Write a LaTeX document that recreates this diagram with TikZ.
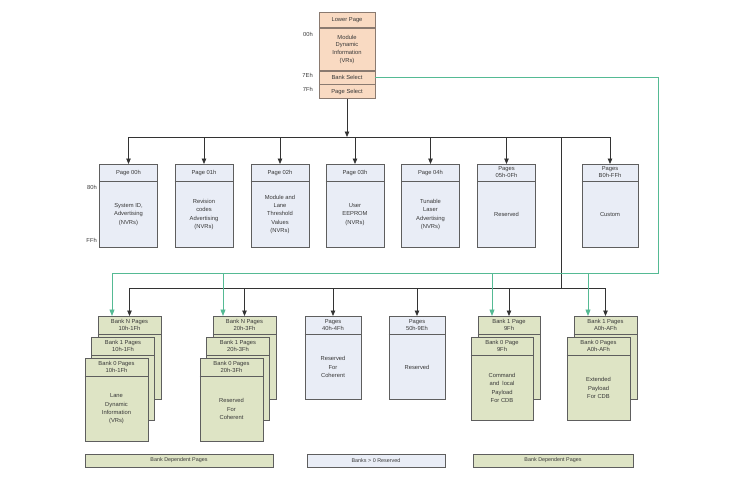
\documentclass[tikz,border=0pt]{standalone}
\usepackage{fontspec}
\setmainfont{Liberation Sans}
\usetikzlibrary{arrows.meta,calc}
\definecolor{peach}{HTML}{F9DAC2}
\definecolor{peachline}{HTML}{8A7A70}
\definecolor{bluefill}{HTML}{E9EDF6}
\definecolor{greenfill}{HTML}{DEE4C5}
\definecolor{boxline}{HTML}{5E5E5E}
\definecolor{gline}{HTML}{55BA94}
\tikzset{
  card/.style={draw=boxline,line width=0.9pt,inner sep=0pt},
  bluecard/.style={card,fill=bluefill},
  greencard/.style={card,fill=greenfill},
  cardline/.style={draw=boxline,line width=0.7pt},
  txt/.style={font=\fontsize{5.8}{7}\selectfont,text=black!78,align=center,inner sep=0pt},
  hdr/.style={txt},
  bodytxt/.style={font=\fontsize{5.8}{8.4}\selectfont,text=black!78,align=center,inner sep=0pt},
  sidelbl/.style={font=\fontsize{5.8}{7}\selectfont,text=black!78,inner sep=0pt,anchor=east},
  wire/.style={draw=black!80,line width=0.8pt},
  arr/.style={wire,-{Triangle[length=5.5pt,width=4.5pt]}},
  gwire/.style={draw=gline,line width=0.9pt},
  garr/.style={gwire,-{Triangle[length=6.5pt,width=5pt]}},
  toprow/.style={draw=peachline,fill=peach,line width=0.8pt,inner sep=0pt,minimum width=56pt,anchor=north,
     font=\fontsize{5.8}{7.6}\selectfont,text=black!78,align=center},
  legbar/.style={draw=boxline,line width=0.9pt,minimum height=13pt,inner sep=0pt,
     font=\fontsize{5.4}{6}\selectfont,text=black!78}
}
% name, x-centre, top y, width, height, header height, header text, body text, style
\newcommand{\pagecard}[9]{%
  \node[#9,minimum width=#4pt,minimum height=#5pt,anchor=north] (#1) at (#2,#3) {};
  \draw[cardline] ([yshift=-#6pt]#1.north west) -- ([yshift=-#6pt]#1.north east);
  \node[hdr] (#1h) at ($(#1.north)!0.5!([yshift=-#6pt]#1.north)$) {#7};
  \node[bodytxt] (#1b) at ($([yshift=-#6pt]#1.north)!0.5!(#1.south)$) {#8};
}
\begin{document}
\begin{tikzpicture}[x=1pt,y=-1pt]
\useasboundingbox (0,0) rectangle (748,483);

% ---- top box (lower page)
\node[toprow,minimum height=15pt] (lp) at (347,12) {Lower Page};
\node[toprow,minimum height=42pt] (mdi) at (lp.south) {Module\\Dynamic\\Information\\(VRs)};
\node[toprow,minimum height=13pt] (bs) at (mdi.south) {Bank Select};
\node[toprow,minimum height=14pt] (ps) at (bs.south) {Page Select};
\node[sidelbl] (l00) at (313,34) {00h};
\node[sidelbl] (l7e) at (313,75.5) {7Eh};
\node[sidelbl] (l7f) at (313,89) {7Fh};

% ---- middle row
\pagecard{p0}{128.5}{164}{58}{83}{17}{Page 00h}{System ID,\\Advertising\\(NVRs)}{bluecard}
\pagecard{p1}{204}{164}{58}{83}{17}{Page 01h}{Revision\\codes\\Advertising\\(NVRs)}{bluecard}
\pagecard{p2}{280}{164}{58}{83}{17}{Page 02h}{Module and\\Lane\\Threshold\\Values\\(NVRs)}{bluecard}
\pagecard{p3}{355}{164}{58}{83}{17}{Page 03h}{User\\EEPROM\\(NVRs)}{bluecard}
\pagecard{p4}{430.5}{164}{58}{83}{17}{Page 04h}{Tunable\\Laser\\Advertising\\(NVRs)}{bluecard}
\pagecard{p5}{506.5}{164}{58}{83}{17}{Pages\\05h-0Fh}{Reserved}{bluecard}
\pagecard{pc}{610}{164}{56}{83}{17}{Pages\\B0h-FFh}{Custom}{bluecard}
\node[sidelbl] (l80) at (97,187) {80h};
\node[sidelbl] (lff) at (97,240) {FFh};

% ---- upper bus
\coordinate (ub) at (347,137);
\draw[arr] (ps.south) -- (ub);
\draw[wire] (p0.north |- ub) -- (pc.north |- ub);
\foreach \n in {p0,p1,p2,p3,p4,p5,pc} \draw[arr] (\n.north |- ub) -- (\n.north);

% ---- bottom row: stacks
% stack 1
\pagecard{s1a}{129.5}{316}{63}{83}{18}{Bank N Pages\\10h-1Fh}{}{greencard}
\pagecard{s1b}{123}{337}{63}{83}{18}{Bank 1 Pages\\10h-1Fh}{}{greencard}
\pagecard{s1c}{116.5}{358}{63}{83}{18}{Bank 0 Pages\\10h-1Fh}{Lane\\Dynamic\\Information\\(VRs)}{greencard}
% stack 2
\pagecard{s2a}{244.5}{316}{63}{83}{18}{Bank N Pages\\20h-3Fh}{}{greencard}
\pagecard{s2b}{238}{337}{63}{83}{18}{Bank 1 Pages\\20h-3Fh}{}{greencard}
\pagecard{s2c}{231.5}{358}{63}{83}{18}{Bank 0 Pages\\20h-3Fh}{Reserved\\For\\Coherent}{greencard}
% single pages
\pagecard{s3}{333}{316}{56}{83}{18}{Pages\\40h-4Fh}{Reserved\\For\\Coherent}{bluecard}
\pagecard{s4}{417}{316}{56}{83}{18}{Pages\\50h-9Eh}{Reserved}{bluecard}
% stack 5
\pagecard{s5a}{509}{316}{62}{83}{18}{Bank 1 Page\\9Fh}{}{greencard}
\pagecard{s5b}{502}{337}{62}{83}{18}{Bank 0 Page\\9Fh}{Command\\and\ \ local\\Payload\\For CDB}{greencard}
% stack 6
\pagecard{s6a}{605.5}{316}{63}{83}{18}{Bank 1 Pages\\A0h-AFh}{}{greencard}
\pagecard{s6b}{598.5}{337}{63}{83}{18}{Bank 0 Pages\\A0h-AFh}{Extended\\Payload\\For CDB}{greencard}

% ---- lower bus
\coordinate (lbx) at (561,288);
\draw[wire] (lbx |- ub) -- (lbx);
\draw[wire] (s1a.north |- lbx) -- (s6a.north |- lbx);
\foreach \n in {s1a,s2a,s3,s4,s5a,s6a} \draw[arr] (\n.north |- lbx) -- (\n.north);

% ---- green bank-select line
\coordinate (gr) at (658,273);
\coordinate (g1) at (112,273);
\coordinate (g2) at (223,273);
\coordinate (g5) at (492,273);
\coordinate (g6) at (588,273);
\draw[gwire] (bs.east) -- (bs.east -| gr) -- (gr) -- (g1);
\draw[garr] (g1) -- (g1 |- s1a.north);
\draw[garr] (g2) -- (g2 |- s2a.north);
\draw[garr] (g5) -- (g5 |- s5a.north);
\draw[garr] (g6) -- (g6 |- s6a.north);

% ---- legend
\node[legbar,fill=greenfill,minimum width=188pt] (lg1) at (179,460.5) {Bank Dependent Pages};
\node[legbar,fill=bluefill,minimum width=138pt] (lg2) at (376,460.5) {Banks > 0 Reserved};
\node[legbar,fill=greenfill,minimum width=160pt] (lg3) at (553,460.5) {Bank Dependent Pages};
\end{tikzpicture}
\end{document}
